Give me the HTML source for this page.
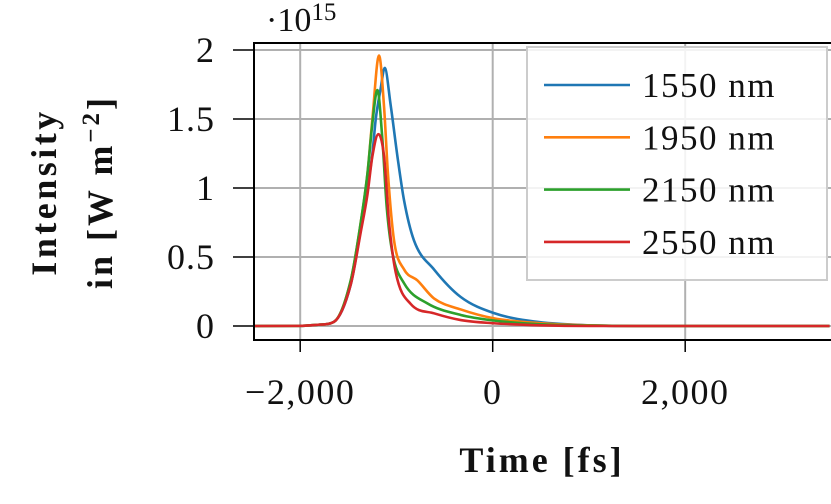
<!DOCTYPE html>
<html><head><meta charset="utf-8"><style>
html,body{margin:0;padding:0;background:#fff;}
svg text{font-family:"Liberation Serif","DejaVu Serif",serif;fill:#111;}
</style></head><body>
<svg width="831" height="499" viewBox="0 0 831 499">
<g id="grid"></g>
<g id="series"></g>
<rect x="254" y="43" width="580" height="297" fill="none" stroke="#000" stroke-width="2"/>
<g id="axes"></g>
<text x="266" y="31" font-size="34">·10<tspan font-size="25" dy="-11">15</tspan></text>
<g transform="translate(56,192) rotate(-90)">
<text x="0" y="0" text-anchor="middle" font-size="36" font-weight="bold" letter-spacing="3.5">Intensity</text>
<text x="0" y="56" text-anchor="middle" font-size="36" font-weight="bold" letter-spacing="3">in [W m<tspan font-size="25" dy="-13">−2</tspan><tspan dy="13">]</tspan></text>
</g>
<text x="542" y="472" text-anchor="middle" font-size="36" font-weight="bold" letter-spacing="3">Time [fs]</text>
<g>
<rect x="527" y="47" width="300" height="233" fill="#fff" fill-opacity="0.85" stroke="#ccc" stroke-width="2"/>
<g id="legend-items"></g>
</g>
</svg>
<script>
const xTicks=[-2000,0,2000];
const xTickLabels=["−2,000","0","2,000"];
const yTicks=[0,0.5,1,1.5,2];
const yTickLabels=["0","0.5","1","1.5","2"];
const seriesNames=["1550 nm","1950 nm","2150 nm","2550 nm"];
const seriesColors=["#1f77b4","#ff7f0e","#2ca02c","#d62728"];
const t1550=[-2500,-2000,-1800,-1650,-1475,-1371,-1250,-1215,-1164,-1122,-1060,-990,-921,-818,-610,-332,10,426,1000,1500,3500];
const v1550=[0,0.001,0.01,0.03,0.3,0.7,1.25,1.5,1.72,1.87,1.6,1.23,0.91,0.62,0.41,0.21,0.094,0.033,0.005,0,0];
const t1950=[-2500,-2000,-1800,-1650,-1475,-1371,-1302,-1250,-1181,-1129,-1088,-1025,-921,-782,-610,-332,10,500,1000,1500,3500];
const v1950=[0,0.001,0.01,0.03,0.33,0.75,1.1,1.5,1.96,1.59,1.1,0.62,0.41,0.33,0.2,0.12,0.056,0.02,0.005,0,0];
const t2150=[-2500,-2000,-1800,-1650,-1475,-1371,-1302,-1250,-1198,-1146,-1101,-1042,-921,-679,-332,10,500,1000,1500,3500];
const v2150=[0,0.001,0.01,0.03,0.33,0.75,1.1,1.47,1.71,1.35,0.86,0.53,0.31,0.164,0.08,0.04,0.012,0.003,0,0];
const t2550=[-2500,-2000,-1800,-1650,-1475,-1371,-1302,-1250,-1188,-1129,-1077,-1008,-852,-610,-332,10,500,1000,3500];
const v2550=[0,0.001,0.01,0.03,0.3,0.68,0.95,1.23,1.39,1.23,0.75,0.39,0.16,0.092,0.043,0.02,0.005,0,0];
const seriesT=[t1550,t1950,t2150,t2550];
const seriesV=[v1550,v1950,v2150,v2550];

const NS="http://www.w3.org/2000/svg";
const X0=254,X1=834,Y0=43,Y1=340;
const xmin=-2480,xmax=3546,ymin=-0.1014,ymax=2.0507;
function sx(t){return X0+(t-xmin)/(xmax-xmin)*(X1-X0);}
function sy(v){return Y1-(v-ymin)/(ymax-ymin)*(Y1-Y0);}
function mk(tag,attrs,parent){const e=document.createElementNS(NS,tag);for(const k in attrs)e.setAttribute(k,attrs[k]);parent.appendChild(e);return e;}
const grid=document.getElementById('grid'),axes=document.getElementById('axes'),ser=document.getElementById('series'),leg=document.getElementById('legend-items');
xTicks.forEach((t,i)=>{
  const x=sx(t);
  const g=mk('line',{x1:x,x2:x,y1:Y0,y2:Y1,stroke:'#b0b0b0','stroke-width':2},grid);
  
  
  const tk=mk('line',{x1:x,x2:x,y1:Y1,y2:Y1+12,stroke:'#000','stroke-width':1.5},axes);
  
  
  const tx=mk('text',{x:x,y:404,'text-anchor':'middle','font-size':36,'letter-spacing':1.5},axes);
  tx.textContent=xTickLabels[i];
  
  
});
yTicks.forEach((v,i)=>{
  const y=sy(v);
  const g=mk('line',{x1:X0,x2:X1,y1:y,y2:y,stroke:'#b0b0b0','stroke-width':2},grid);
  
  
  const tk=mk('line',{x1:233,x2:X0,y1:y,y2:y,stroke:'#000','stroke-width':1.5},axes);
  
  
  const tx=mk('text',{x:215,y:y+12,'text-anchor':'end','font-size':36,'letter-spacing':1},axes);
  tx.textContent=yTickLabels[i];
  
  
});
function smooth(ts,vs){
  const p=ts.map((t,i)=>[sx(t),sy(vs[i])]);
  const n=p.length,d=[],m=new Array(n);
  for(let i=0;i<n-1;i++)d.push((p[i+1][1]-p[i][1])/(p[i+1][0]-p[i][0]));
  m[0]=d[0];m[n-1]=d[n-2];
  for(let i=1;i<n-1;i++){m[i]=(d[i-1]*d[i]<=0)?0:(d[i-1]+d[i])/2;}
  for(let i=0;i<n-1;i++){
    if(d[i]===0){m[i]=0;m[i+1]=0;continue;}
    const a=m[i]/d[i],b=m[i+1]/d[i],s=a*a+b*b;
    if(s>9){const tau=3/Math.sqrt(s);m[i]=tau*a*d[i];m[i+1]=tau*b*d[i];}
  }
  let s='M'+p[0][0]+','+p[0][1];
  for(let i=0;i<n-1;i++){
    const h=(p[i+1][0]-p[i][0])/3;
    s+=' C'+(p[i][0]+h)+','+(p[i][1]+m[i]*h)+' '+(p[i+1][0]-h)+','+(p[i+1][1]-m[i+1]*h)+' '+p[i+1][0]+','+p[i+1][1];
  }
  return s;
}
const clip=mk('clipPath',{id:'clp'},ser);mk('rect',{x:X0,y:Y0,width:X1-X0,height:Y1-Y0},clip);
seriesNames.forEach((n,i)=>{
  const p=mk('path',{d:smooth(seriesT[i],seriesV[i]),fill:'none',stroke:seriesColors[i],'stroke-width':2.6,'clip-path':'url(#clp)','stroke-linejoin':'round'},ser);
  
  
  const y=85+i*52.3;
  const l=mk('line',{x1:544,x2:630,y1:y,y2:y,stroke:seriesColors[i],'stroke-width':2.6},leg);
  
  
  const t=mk('text',{x:642,y:y+12,'font-size':35,'letter-spacing':1.5},leg);
  t.textContent=n;
  
  
});
</script>
</body></html>
